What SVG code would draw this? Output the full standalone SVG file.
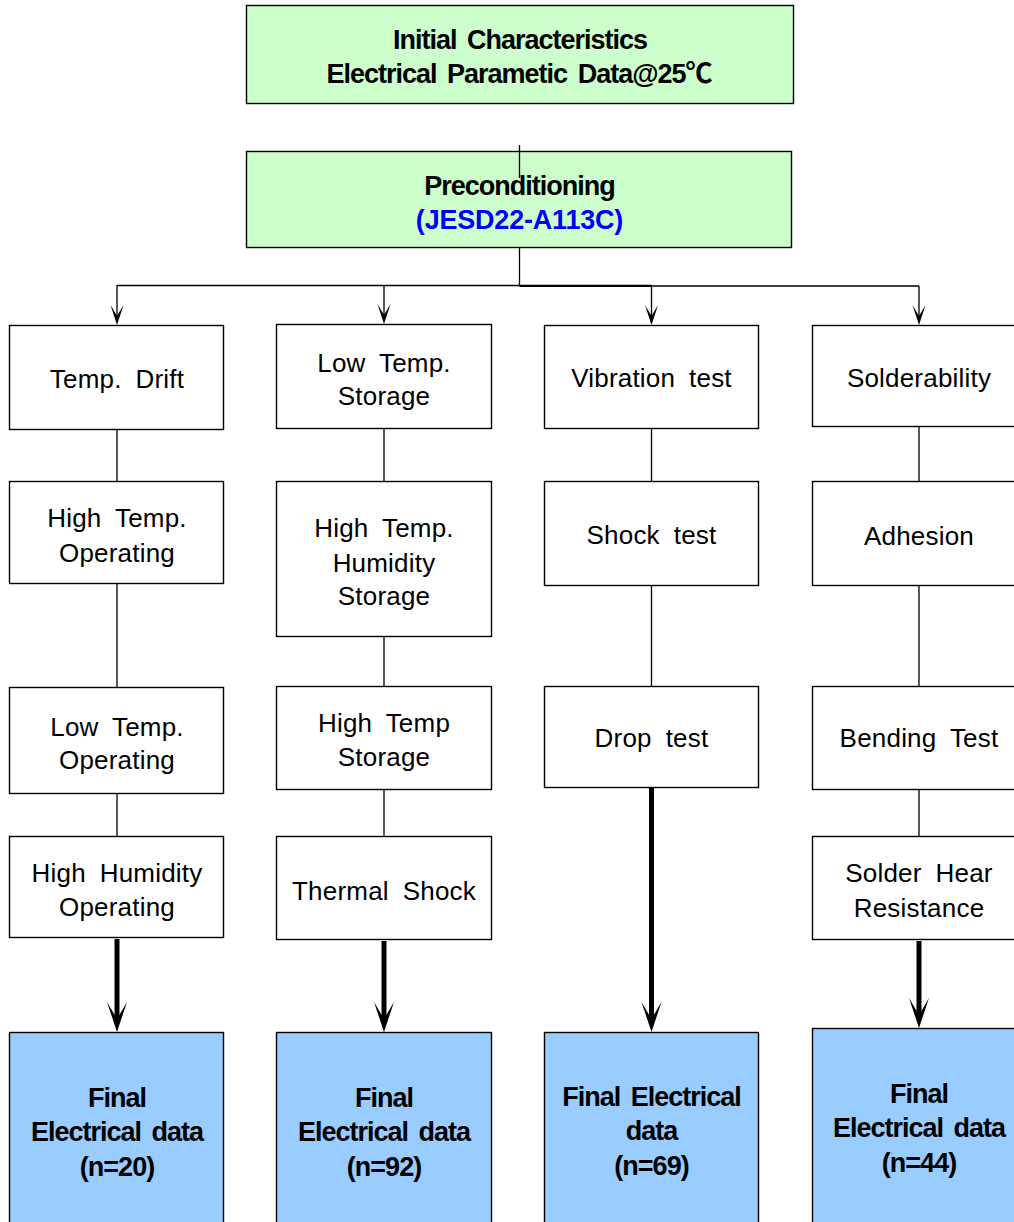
<svg xmlns="http://www.w3.org/2000/svg" width="1014" height="1222" viewBox="0 0 1014 1222">
<style>
.box{fill:#ffffff;stroke:#000000;stroke-width:1.4}
.green{fill:#ccffcc;stroke:#000000;stroke-width:1.4}
.blue{fill:#99ccff;stroke:#000000;stroke-width:1.4}
.t{font-family:"Liberation Sans",Arial,"Noto Sans CJK KR",sans-serif;font-size:26px;letter-spacing:0.2px;word-spacing:6.5px;text-anchor:middle;fill:#000000}
.b{font-family:"Liberation Sans",Arial,"Noto Sans CJK KR",sans-serif;font-size:27px;font-weight:bold;letter-spacing:-1px;word-spacing:4px;text-anchor:middle;fill:#000000}
.jesd{fill:#0000ff;letter-spacing:-0.2px}
.thin{fill:none;stroke:#000000;stroke-width:1.3}
.thick{fill:none;stroke:#000000;stroke-width:5}
</style>
<defs>
<marker id="ah" markerUnits="userSpaceOnUse" orient="auto" refX="-9" refY="0" overflow="visible" markerWidth="1" markerHeight="1">
<path d="M0,0 L-20,-6.5 L-9,0 L-20,6.5 Z" fill="#000000"/>
</marker>
<marker id="ahb" markerUnits="userSpaceOnUse" orient="auto" refX="-13" refY="0" overflow="visible" markerWidth="1" markerHeight="1">
<path d="M0,0 L-30,-10 L-13,0 L-30,10 Z" fill="#000000"/>
</marker>
</defs>

<g id="n-initial">
<rect class="green" x="246.5" y="5.5" width="547" height="98"/>
<text class="b" x="520" y="49">Initial Characteristics</text>
<text class="b" x="519" y="83">Electrical Parametic Data@25℃</text>
</g>
<g id="n-precond">
<rect class="green" x="246.5" y="151.5" width="545" height="96"/>
<text class="b" x="519.5" y="194.5">Preconditioning</text>
<text class="b jesd" x="519.5" y="229">(JESD22-A113C)</text>
</g>

<g id="n-tempdrift">
<rect class="box" x="9.5" y="325.5" width="214" height="104"/>
<text class="t" x="117" y="388">Temp. Drift</text>
</g>
<g id="n-hto">
<rect class="box" x="9.5" y="481.5" width="214" height="102"/>
<text class="t" x="117" y="527">High Temp.</text>
<text class="t" x="117" y="562">Operating</text>
</g>
<g id="n-lto">
<rect class="box" x="9.5" y="687.5" width="214" height="106"/>
<text class="t" x="117" y="736">Low Temp.</text>
<text class="t" x="117" y="769">Operating</text>
</g>
<g id="n-hho">
<rect class="box" x="9.5" y="836.5" width="214" height="101"/>
<text class="t" x="117" y="882">High Humidity</text>
<text class="t" x="117" y="916">Operating</text>
</g>
<g id="n-final1">
<rect class="blue" x="9.5" y="1032.5" width="214" height="200"/>
<text class="b" x="117" y="1107">Final</text>
<text class="b" x="117" y="1141">Electrical data</text>
<text class="b" x="117" y="1176">(n=20)</text>
</g>

<g id="n-lts">
<rect class="box" x="276.5" y="324.5" width="215" height="104"/>
<text class="t" x="384" y="372">Low Temp.</text>
<text class="t" x="384" y="405">Storage</text>
</g>
<g id="n-hths">
<rect class="box" x="276.5" y="481.5" width="215" height="155"/>
<text class="t" x="384" y="537">High Temp.</text>
<text class="t" x="384" y="572">Humidity</text>
<text class="t" x="384" y="605">Storage</text>
</g>
<g id="n-hts">
<rect class="box" x="276.5" y="686.5" width="215" height="103"/>
<text class="t" x="384" y="732">High Temp</text>
<text class="t" x="384" y="766">Storage</text>
</g>
<g id="n-ts">
<rect class="box" x="276.5" y="836.5" width="215" height="103"/>
<text class="t" x="384" y="900">Thermal Shock</text>
</g>
<g id="n-final2">
<rect class="blue" x="276.5" y="1032.5" width="215" height="200"/>
<text class="b" x="384" y="1107">Final</text>
<text class="b" x="384" y="1141">Electrical data</text>
<text class="b" x="384" y="1176">(n=92)</text>
</g>

<g id="n-vib">
<rect class="box" x="544.5" y="325.5" width="214" height="103"/>
<text class="t" x="651.5" y="386.5">Vibration test</text>
</g>
<g id="n-shock">
<rect class="box" x="544.5" y="481.5" width="214" height="104"/>
<text class="t" x="651.5" y="544">Shock test</text>
</g>
<g id="n-drop">
<rect class="box" x="544.5" y="686.5" width="214" height="101"/>
<text class="t" x="651.5" y="746.5">Drop test</text>
</g>
<g id="n-final3">
<rect class="blue" x="544.5" y="1032.5" width="214" height="200"/>
<text class="b" x="651.5" y="1106">Final Electrical</text>
<text class="b" x="651.5" y="1140">data</text>
<text class="b" x="651.5" y="1175">(n=69)</text>
</g>

<g id="n-solder">
<rect class="box" x="812.5" y="325.5" width="214" height="101"/>
<text class="t" x="919" y="386.5">Solderability</text>
</g>
<g id="n-adhesion">
<rect class="box" x="812.5" y="481.5" width="214" height="104"/>
<text class="t" x="919" y="545">Adhesion</text>
</g>
<g id="n-bending">
<rect class="box" x="812.5" y="686.5" width="214" height="103"/>
<text class="t" x="919" y="747">Bending Test</text>
</g>
<g id="n-shr">
<rect class="box" x="812.5" y="836.5" width="214" height="103"/>
<text class="t" x="919" y="882">Solder Hear</text>
<text class="t" x="919" y="917">Resistance</text>
</g>
<g id="n-final4">
<rect class="blue" x="812.5" y="1028.5" width="214" height="204"/>
<text class="b" x="919" y="1103">Final</text>
<text class="b" x="919" y="1137">Electrical data</text>
<text class="b" x="919" y="1172">(n=44)</text>
</g>

<g id="connectors">
<line class="thin" x1="519.5" y1="145" x2="519.5" y2="178"/>
<line class="thin" x1="519.5" y1="248" x2="519.5" y2="285.5"/>
<line class="thin" x1="117" y1="285.5" x2="519.5" y2="285.5"/>
<line class="thin" x1="519.5" y1="286" x2="919" y2="286"/>
<line x1="519.5" y1="285.8" x2="651.5" y2="285.8" stroke="#000" stroke-width="2.2"/>
<line class="thin" x1="117" y1="285" x2="117" y2="316" marker-end="url(#ah)"/>
<line class="thin" x1="384" y1="285" x2="384" y2="315" marker-end="url(#ah)"/>
<line class="thin" x1="651.5" y1="285" x2="651.5" y2="316" marker-end="url(#ah)"/>
<line class="thin" x1="919" y1="286" x2="919" y2="316" marker-end="url(#ah)"/>
<line class="thin" x1="117" y1="430" x2="117" y2="481"/>
<line class="thin" x1="117" y1="584" x2="117" y2="687"/>
<line class="thin" x1="117" y1="794" x2="117" y2="836"/>
<line class="thin" x1="384" y1="429" x2="384" y2="481"/>
<line class="thin" x1="384" y1="637" x2="384" y2="686"/>
<line class="thin" x1="384" y1="790" x2="384" y2="836"/>
<line class="thin" x1="651.5" y1="429" x2="651.5" y2="481"/>
<line class="thin" x1="651.5" y1="586" x2="651.5" y2="686"/>
<line class="thin" x1="919" y1="427" x2="919" y2="481"/>
<line class="thin" x1="919" y1="586" x2="919" y2="686"/>
<line class="thin" x1="919" y1="790" x2="919" y2="836"/>
<line class="thick" x1="117" y1="939" x2="117" y2="1019" marker-end="url(#ahb)"/>
<line class="thick" x1="384" y1="941" x2="384" y2="1019" marker-end="url(#ahb)"/>
<line class="thick" x1="651.5" y1="788" x2="651.5" y2="1019" marker-end="url(#ahb)"/>
<line class="thick" x1="919" y1="941" x2="919" y2="1015" marker-end="url(#ahb)"/>
</g>
</svg>
